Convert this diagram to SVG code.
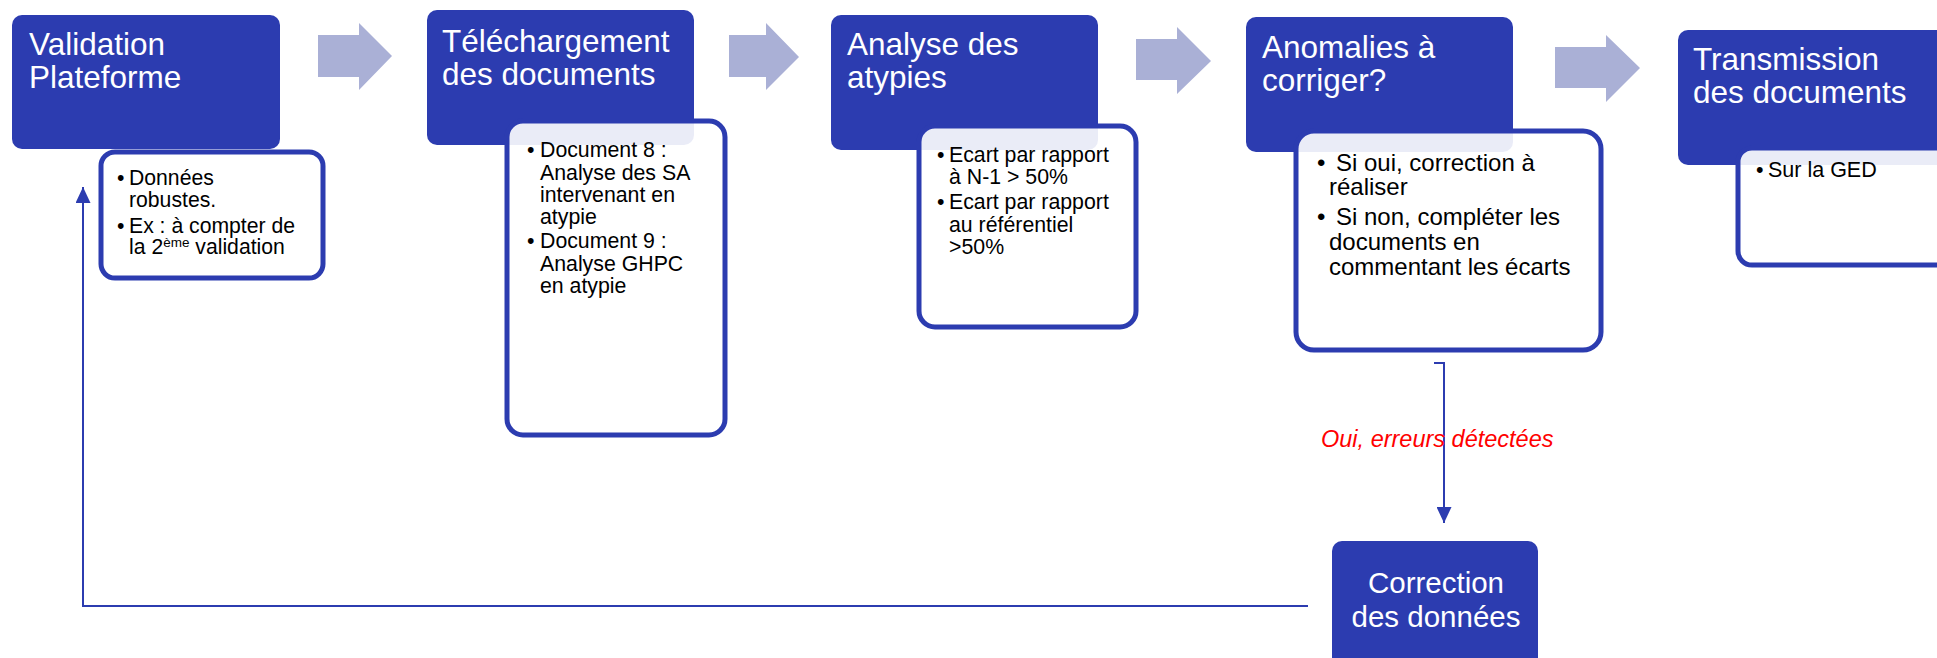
<svg xmlns="http://www.w3.org/2000/svg" width="1937" height="658" viewBox="0 0 1937 658">
<defs>
<style>
.main{fill:#2c3cb0;}
.sub{fill:#ffffff;fill-opacity:0.9;stroke:#2c3cb0;stroke-width:5;}
.title{font-family:"Liberation Sans",Arial,sans-serif;font-size:31.5px;fill:#ffffff;}
.ctitle{font-family:"Liberation Sans",Arial,sans-serif;font-size:29.5px;fill:#ffffff;text-anchor:middle;}
.t20{font-family:"Liberation Sans",Arial,sans-serif;font-size:21.2px;fill:#000000;}
.t21{font-family:"Liberation Sans",Arial,sans-serif;font-size:21.3px;fill:#000000;}
.t23{font-family:"Liberation Sans",Arial,sans-serif;font-size:24px;fill:#000000;}
.t5{font-family:"Liberation Sans",Arial,sans-serif;font-size:21.5px;fill:#000000;}
.chev{fill:#aab0d6;}
.conn{fill:none;stroke:#2c3cb0;stroke-width:2;}
.lbl{font-family:"Liberation Sans",Arial,sans-serif;font-size:23.5px;font-style:italic;fill:#ff0000;}
</style>
<marker id="ah" viewBox="0 0 16 15" refX="16" refY="7.5" markerWidth="16" markerHeight="15" markerUnits="userSpaceOnUse" orient="auto">
<path d="M0,0 L16,7.5 L0,15 Z" fill="#2c3cb0"/>
</marker>
</defs>

<g id="chevrons">
<polygon class="chev" points="318,35 359,35 359,23 392,56 359,90 359,77 318,77"/>
<polygon class="chev" points="729,35 766,35 766,23 799,57 766,90 766,77 729,77"/>
<polygon class="chev" points="1136,39 1177,39 1177,27 1211,61 1177,94 1177,80 1136,80"/>
<polygon class="chev" points="1555,47 1606,47 1606,35 1640,68 1606,102 1606,88 1555,88"/>
</g>

<g id="connectors">
<path class="conn" d="M1308,606 H83 V187" marker-end="url(#ah)"/>
<path class="conn" d="M1434,363 H1444 V523" marker-end="url(#ah)"/>
<text class="lbl" x="1321" y="447">Oui, erreurs détectées</text>
</g>

<g id="node-validation">
<rect class="main" x="12" y="15" width="268" height="134" rx="10"/>
<text class="title"><tspan x="29" y="55">Validation</tspan><tspan x="29" y="88">Plateforme</tspan></text>
<rect class="sub" x="101" y="152" width="222" height="126" rx="14"/>
<text class="t20"><tspan x="117" y="185">•</tspan><tspan x="129" y="185">Données</tspan><tspan x="129" y="207">robustes.</tspan><tspan x="117" y="233">•</tspan><tspan x="129" y="233">Ex : à compter de</tspan><tspan x="129" y="254">la 2</tspan><tspan font-size="13.5" dy="-7">ème</tspan><tspan dy="7"> validation</tspan></text>
</g>

<g id="node-telechargement">
<rect class="main" x="427" y="10" width="267" height="135" rx="10"/>
<text class="title"><tspan x="442" y="52">Téléchargement</tspan><tspan x="442" y="85">des documents</tspan></text>
<rect class="sub" x="507" y="121" width="218" height="314" rx="16"/>
<text class="t21"><tspan x="527" y="157">•</tspan><tspan x="540" y="157">Document 8 :</tspan><tspan x="540" y="180">Analyse des SA</tspan><tspan x="540" y="202">intervenant en</tspan><tspan x="540" y="224">atypie</tspan><tspan x="527" y="248">•</tspan><tspan x="540" y="248">Document 9 :</tspan><tspan x="540" y="271">Analyse GHPC</tspan><tspan x="540" y="293">en atypie</tspan></text>
</g>

<g id="node-analyse">
<rect class="main" x="831" y="15" width="267" height="135" rx="10"/>
<text class="title"><tspan x="847" y="55">Analyse des</tspan><tspan x="847" y="88">atypies</tspan></text>
<rect class="sub" x="919" y="126" width="217" height="201" rx="16"/>
<text class="t21"><tspan x="937" y="162">•</tspan><tspan x="949" y="162">Ecart par rapport</tspan><tspan x="949" y="184">à N-1 &gt; 50%</tspan><tspan x="937" y="209">•</tspan><tspan x="949" y="209">Ecart par rapport</tspan><tspan x="949" y="232">au référentiel</tspan><tspan x="949" y="254">&gt;50%</tspan></text>
</g>

<g id="node-anomalies">
<rect class="main" x="1246" y="17" width="267" height="135" rx="10"/>
<text class="title"><tspan x="1262" y="58">Anomalies à</tspan><tspan x="1262" y="91">corriger?</tspan></text>
<rect class="sub" x="1296" y="131" width="305" height="219" rx="18"/>
<text class="t23"><tspan x="1317" y="171">•</tspan><tspan x="1336" y="171">Si oui, correction à</tspan><tspan x="1329" y="195">réaliser</tspan><tspan x="1317" y="225">•</tspan><tspan x="1336" y="225">Si non, compléter les</tspan><tspan x="1329" y="250">documents en</tspan><tspan x="1329" y="275">commentant les écarts</tspan></text>
</g>

<g id="node-transmission">
<rect class="main" x="1678" y="30" width="280" height="135" rx="10"/>
<text class="title"><tspan x="1693" y="70">Transmission</tspan><tspan x="1693" y="103">des documents</tspan></text>
<rect class="sub" x="1738" y="148" width="240" height="117" rx="14"/>
<text class="t5"><tspan x="1756" y="177">•</tspan><tspan x="1768" y="177">Sur la GED</tspan></text>
</g>

<g id="node-correction">
<rect class="main" x="1332" y="541" width="206" height="140" rx="10"/>
<text class="ctitle"><tspan x="1436" y="593">Correction</tspan><tspan x="1436" y="627">des données</tspan></text>
</g>
</svg>
